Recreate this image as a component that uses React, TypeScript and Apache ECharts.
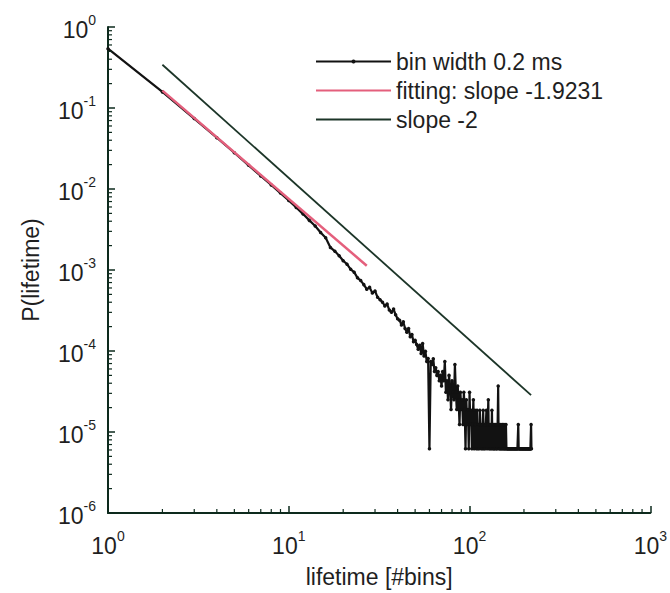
import React, { useEffect, useRef } from "react";
import * as echarts from "echarts";

// P(lifetime) for lifetimes of 1, 2, 3, ... bins (bin width 0.2 ms)
const probabilities: number[] = [
  0.54, 0.158, 0.074, 0.043, 0.028, 0.0196, 0.0145, 0.0112, 0.0089, 0.0072,
  0.0059, 0.0049, 0.0041, 0.0035, 0.0029, 0.0025, 0.0019, 0.0017, 0.0015, 0.0013,
  0.00118, 0.00102, 0.00094, 0.0008, 0.00074, 0.00066, 0.00058, 0.00061, 0.00052, 0.00055,
  0.00046, 0.00043, 0.0004, 0.00036, 0.00038, 0.00032, 0.0003, 0.00033, 0.00028, 0.00025,
  0.00024, 0.00021, 0.00023, 0.00019, 0.00017, 0.00019, 0.00015, 0.00016, 0.00013, 0.000136,
  0.00012, 0.000105, 0.000118, 0.000093, 0.000124, 0.000087, 0.000099, 0.000074, 0.000081, 6.2e-6,
  7.4e-5, 6.8e-5, 8.0e-5, 5.6e-5, 6.2e-5, 5.0e-5, 5.6e-5, 4.3e-5, 5.0e-5, 3.7e-5,
  5.6e-5, 4.3e-5, 7.4e-5, 3.1e-5, 4.3e-5, 2.5e-5, 5.0e-5, 3.7e-5, 1.9e-5, 4.3e-5,
  3.1e-5, 2.5e-5, 6.8e-5, 3.1e-5, 1.9e-5, 3.7e-5, 2.5e-5, 1.24e-5, 3.1e-5, 1.9e-5,
  2.5e-5, 1.24e-5, 3.1e-5, 1.9e-5, 6.2e-6, 2.5e-5, 1.24e-5, 1.9e-5, 6.2e-6, 3.1e-5,
  1.24e-5, 1.86e-5, 6.2e-6, 1.24e-5, 2.5e-5, 6.2e-6, 1.86e-5, 1.24e-5, 6.2e-6, 1.86e-5,
  6.2e-6, 1.24e-5, 6.2e-6, 1.86e-5, 1.24e-5, 6.2e-6, 1.24e-5, 6.2e-6, 1.86e-5, 6.2e-6,
  1.24e-5, 6.2e-6, 1.24e-5, 1.86e-5, 6.2e-6, 1.24e-5, 2.5e-5, 6.2e-6, 1.24e-5, 6.2e-6,
  1.24e-5, 6.2e-6, 1.86e-5, 6.2e-6, 1.24e-5, 6.2e-6, 6.2e-6, 1.24e-5, 6.2e-6, 1.24e-5,
  6.2e-6, 6.2e-6, 1.24e-5, 3.7e-5, 6.2e-6, 1.24e-5, 6.2e-6, 6.2e-6, 1.24e-5, 6.2e-6,
  6.2e-6, 1.24e-5, 6.2e-6, 6.2e-6, 1.24e-5, 6.2e-6, 6.2e-6, 6.2e-6, 1.24e-5, 6.2e-6,
  6.2e-6, 6.2e-6, 6.2e-6, 6.2e-6, 6.2e-6, 6.2e-6, 6.2e-6, 6.2e-6, 6.2e-6, 6.2e-6,
  6.2e-6, 6.2e-6, 6.2e-6, 6.2e-6, 6.2e-6, 6.2e-6, 6.2e-6, 6.2e-6, 6.2e-6, 6.2e-6,
  6.2e-6, 6.2e-6, 6.2e-6, 6.2e-6, 6.2e-6, 1.24e-5, 6.2e-6, 6.2e-6, 6.2e-6, 6.2e-6,
  6.2e-6, 6.2e-6, 6.2e-6, 6.2e-6, 6.2e-6, 6.2e-6, 6.2e-6, 6.2e-6, 6.2e-6, 6.2e-6,
  6.2e-6, 6.2e-6, 6.2e-6, 6.2e-6, 6.2e-6, 6.2e-6, 6.2e-6, 6.2e-6, 6.2e-6, 6.2e-6,
  6.2e-6, 6.2e-6, 6.2e-6, 6.2e-6, 6.2e-6, 6.2e-6, 6.2e-6, 6.2e-6, 1.24e-5, 6.2e-6,
];

// fitted power law (slope -1.9231) and reference line (slope -2): end points
const fitLine: [number, number][] = [
  [2, 0.164],
  [27, 0.00113],
];
const slopeTwoLine: [number, number][] = [
  [2, 0.342],
  [219, 2.85e-5],
];

const seriesNames = ["bin width 0.2 ms", "fitting: slope -1.9231", "slope -2"];
const xAxisName = "lifetime [#bins]";
const yAxisName = "P(lifetime)";

const xMinorTicks = [2, 3, 4, 5, 6, 7, 8, 9, 20, 30, 40, 50, 60, 70, 80, 90, 200, 300, 400, 500, 600, 700, 800, 900];
const yMinorTicks = [
  2e-6, 3e-6, 4e-6, 5e-6, 6e-6, 7e-6, 8e-6, 9e-6,
  2e-5, 3e-5, 4e-5, 5e-5, 6e-5, 7e-5, 8e-5, 9e-5,
  2e-4, 3e-4, 4e-4, 5e-4, 6e-4, 7e-4, 8e-4, 9e-4,
  2e-3, 3e-3, 4e-3, 5e-3, 6e-3, 7e-3, 8e-3, 9e-3,
  2e-2, 3e-2, 4e-2, 5e-2, 6e-2, 7e-2, 8e-2, 9e-2,
  0.2, 0.3, 0.4, 0.5, 0.6, 0.7, 0.8, 0.9,
];

const FONT = "'Liberation Sans', Arial, Helvetica, sans-serif";
const AXIS_COLOR = "#0d2a1d";
const TEXT_COLOR = "#1f1f1f";

const powLabel = (v: number) => {
  const e = Math.round(Math.log10(v));
  return `{b|10}{s|${e}}`;
};

const richLabel = {
  b: { fontSize: 23, lineHeight: 28, verticalAlign: "bottom", color: TEXT_COLOR, fontFamily: FONT },
  s: { fontSize: 14, lineHeight: 14, verticalAlign: "top", color: TEXT_COLOR, fontFamily: FONT },
};

export default function App() {
  const ref = useRef<HTMLDivElement>(null);

  useEffect(() => {
    if (!ref.current) return;
    const chart = echarts.init(ref.current, undefined, { renderer: "svg" });

    const dataPoints = probabilities.map((p, i) => [i + 1, p]);

    chart.setOption({
      animation: false,
      backgroundColor: "#ffffff",
      grid: { left: 108, right: 17, top: 27, bottom: 77, containLabel: false },
      legend: {
        data: [
          { name: seriesNames[0] },
          { name: seriesNames[1], itemStyle: { opacity: 0 } },
          { name: seriesNames[2], itemStyle: { opacity: 0 } },
        ],
        orient: "vertical",
        left: 315,
        top: 50,
        padding: 0,
        itemWidth: 75,
        itemHeight: 5,
        itemGap: 6,
        selectedMode: false,
        textStyle: { fontFamily: FONT, fontSize: 23, lineHeight: 22, color: TEXT_COLOR },
      },
      xAxis: {
        type: "log",
        logBase: 10,
        min: 1,
        max: 1000,
        splitNumber: 3,
        name: xAxisName,
        nameLocation: "middle",
        nameGap: 52,
        nameTextStyle: { fontFamily: FONT, fontSize: 23, color: TEXT_COLOR },
        axisLine: { show: true, lineStyle: { color: AXIS_COLOR, width: 2 } },
        axisTick: { show: true, inside: true, length: 7, lineStyle: { color: AXIS_COLOR, width: 1.5 } },
        axisLabel: { formatter: powLabel, rich: richLabel, margin: 16, showMinLabel: true, showMaxLabel: true },
        splitLine: { show: false },
      },
      yAxis: {
        type: "log",
        logBase: 10,
        min: 1e-6,
        max: 1,
        splitNumber: 6,
        name: yAxisName,
        nameLocation: "middle",
        nameGap: 66,
        nameTextStyle: { fontFamily: FONT, fontSize: 23, color: TEXT_COLOR },
        axisLine: { show: true, lineStyle: { color: AXIS_COLOR, width: 2 } },
        axisTick: { show: true, inside: true, length: 7, lineStyle: { color: AXIS_COLOR, width: 1.5 } },
        axisLabel: { formatter: powLabel, rich: richLabel, margin: 12, showMinLabel: true, showMaxLabel: true },
        splitLine: { show: false },
      },
      series: [
        {
          name: seriesNames[0],
          type: "line",
          data: dataPoints,
          symbol: "circle",
          symbolSize: 3.5,
          showAllSymbol: true,
          color: "#121212",
          lineStyle: { color: "#121212", width: 2.2 },
          itemStyle: { color: "#121212" },
          z: 3,
        },
        {
          name: seriesNames[1],
          type: "line",
          data: fitLine,
          symbol: "none",
          color: "#e45f7c",
          lineStyle: { color: "#e45f7c", width: 2.5 },
          z: 4,
        },
        {
          name: seriesNames[2],
          type: "line",
          data: slopeTwoLine,
          symbol: "none",
          color: "#1c3528",
          lineStyle: { color: "#1c3528", width: 1.8 },
          z: 4,
        },
        {
          type: "custom",
          silent: true,
          clip: false,
          data: xMinorTicks.map((v) => [v, 1e-6]),
          renderItem: (_params: any, api: any) => {
            const p = api.coord([api.value(0), api.value(1)]);
            return {
              type: "line",
              shape: { x1: p[0], y1: p[1], x2: p[0], y2: p[1] - 4 },
              style: { stroke: AXIS_COLOR, lineWidth: 1.2 },
            };
          },
          z: 5,
        },
        {
          type: "custom",
          silent: true,
          clip: false,
          data: yMinorTicks.map((v) => [1, v]),
          renderItem: (_params: any, api: any) => {
            const p = api.coord([api.value(0), api.value(1)]);
            return {
              type: "line",
              shape: { x1: p[0], y1: p[1], x2: p[0] + 4, y2: p[1] },
              style: { stroke: AXIS_COLOR, lineWidth: 1.2 },
            };
          },
          z: 5,
        },
      ],
    });

    return () => chart.dispose();
  }, []);

  return (
    <div
      ref={ref}
      style={{ position: "absolute", left: 0, top: 0, width: 670, height: 593, background: "#fff" }}
    />
  );
}
